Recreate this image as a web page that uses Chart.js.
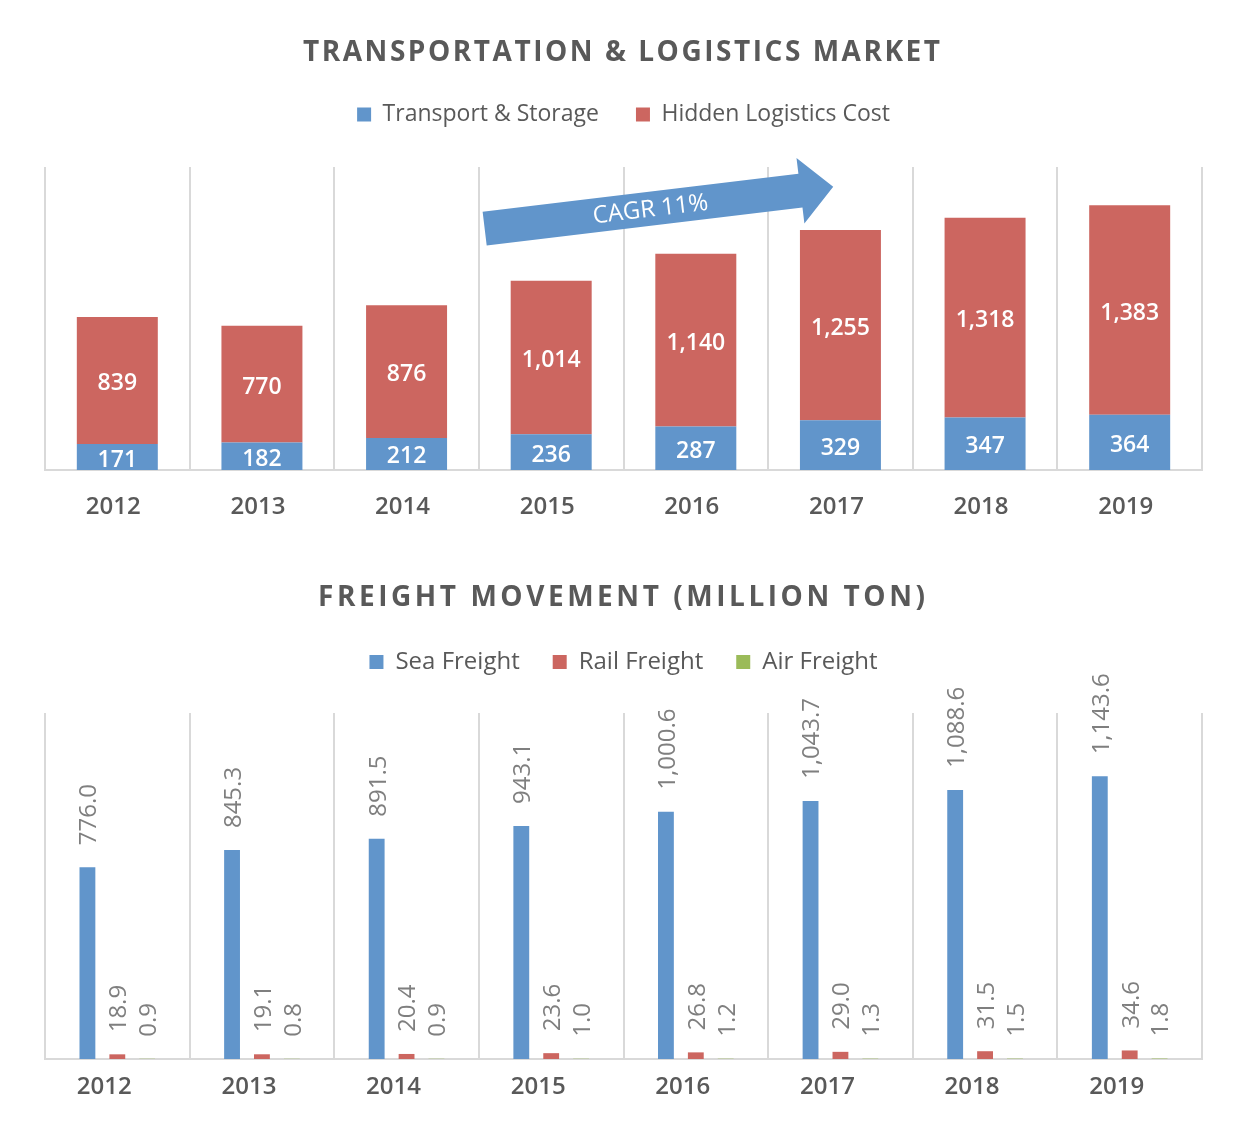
<!DOCTYPE html>
<html><head><meta charset="utf-8">
<script src="https://cdn.jsdelivr.net/npm/chart.js@4.4.0/dist/chart.umd.min.js"></script>
<style>
html,body{margin:0;padding:0;background:#fff;}
#wrap{width:1258px;height:1128px;position:relative;}
.box{position:absolute;left:0;width:1258px;}
</style></head><body>
<div id="wrap">
<div class="box" style="top:0;height:545px"><canvas id="c1"></canvas></div>
<div class="box" style="top:545px;height:583px"><canvas id="c2"></canvas></div>
</div>
<script>
// ---- data ----
const years = ['2012','2013','2014','2015','2016','2017','2018','2019'];
const transportStorage = [171, 182, 212, 236, 287, 329, 347, 364];
const hiddenLogistics = [839, 770, 876, 1014, 1140, 1255, 1318, 1383];
const seaFreight = [776.0, 845.3, 891.5, 943.1, 1000.6, 1043.7, 1088.6, 1143.6];
const railFreight = [18.9, 19.1, 20.4, 23.6, 26.8, 29.0, 31.5, 34.6];
const airFreight = [0.9, 0.8, 0.9, 1.0, 1.2, 1.3, 1.5, 1.8];
const cagrLabel = 'CAGR 11%';
const cagrFrom = {x: 2.54, y: 1593};
const cagrTo = {x: 4.95, y: 1870};

const BLUE = '#6195CB', RED = '#CC6660', GREEN = '#9BBB59', GRID = '#d9d9d9', TXT = '#595959';
Chart.defaults.font.family = "'Open Sans', sans-serif";
Chart.defaults.color = TXT;

const spacedTitle = {
  id: 'spacedTitle',
  afterDraw(chart, args, o) {
    const ctx = chart.ctx;
    ctx.save();
    ctx.font = o.font;
    ctx.fillStyle = o.color;
    ctx.textBaseline = 'middle';
    const n = [...o.text].length;
    const w0 = ctx.measureText(o.text).width;
    const sp = (o.width - w0) / (n - 1);
    if ('letterSpacing' in ctx) {
      ctx.letterSpacing = sp + 'px';
      ctx.textAlign = 'left';
      ctx.fillText(o.text, o.x - o.width / 2, o.y);
    } else {
      let x = o.x - o.width / 2;
      ctx.textAlign = 'left';
      for (const ch of o.text) { ctx.fillText(ch, x, o.y); x += ctx.measureText(ch).width + sp; }
    }
    ctx.restore();
  }
};
function legendGap(extra) {
  return { id: 'legendGap', beforeInit(chart) {
    const l = chart.legend; const fit = l.fit;
    l.fit = function() { fit.call(this); this.height += extra; };
  }};
}
const stackLabels = {
  id: 'stackLabels',
  afterDatasetsDraw(chart) {
    const ctx = chart.ctx;
    ctx.save();
    ctx.font = "600 23px 'Open Sans', sans-serif";
    ctx.fillStyle = '#ffffff';
    ctx.textAlign = 'center'; ctx.textBaseline = 'middle';
    chart.data.datasets.forEach((ds, i) => {
      chart.getDatasetMeta(i).data.forEach((bar, j) => {
        const p = bar.getProps(['x', 'y', 'base'], true);
        ctx.fillText(ds.data[j].toLocaleString('en-US'), p.x, (p.y + p.base) / 2 + 3);
      });
    });
    ctx.restore();
  }
};
const cagrArrow = {
  id: 'cagrArrow',
  afterDraw(chart) {
    const xs = chart.scales.x, ys = chart.scales.y, ctx = chart.ctx;
    const x1 = xs.getPixelForValue(cagrFrom.x), y1 = ys.getPixelForValue(cagrFrom.y);
    const x2 = xs.getPixelForValue(cagrTo.x), y2 = ys.getPixelForValue(cagrTo.y);
    const L = Math.hypot(x2 - x1, y2 - y1), a = Math.atan2(y2 - y1, x2 - x1);
    const head = 33, hw = 33, bw = 17;
    ctx.save();
    ctx.translate(x1, y1); ctx.rotate(a);
    ctx.beginPath();
    ctx.moveTo(0, -bw); ctx.lineTo(L - head, -bw); ctx.lineTo(L - head, -hw);
    ctx.lineTo(L, 0); ctx.lineTo(L - head, hw); ctx.lineTo(L - head, bw); ctx.lineTo(0, bw);
    ctx.closePath();
    ctx.fillStyle = BLUE; ctx.fill();
    ctx.font = "24px 'Open Sans', sans-serif";
    ctx.fillStyle = '#fff'; ctx.textAlign = 'center'; ctx.textBaseline = 'middle';
    ctx.fillText(cagrLabel, 167, 1);
    ctx.restore();
  }
};
const rotLabels = {
  id: 'rotLabels',
  afterDatasetsDraw(chart) {
    const ctx = chart.ctx;
    ctx.save();
    ctx.font = "24px 'Open Sans', sans-serif";
    ctx.fillStyle = '#7F7F7F';
    ctx.textAlign = 'left'; ctx.textBaseline = 'middle';
    chart.data.datasets.forEach((ds, i) => {
      chart.getDatasetMeta(i).data.forEach((bar, j) => {
        const p = bar.getProps(['x', 'y'], true);
        const t = ds.data[j].toLocaleString('en-US', {minimumFractionDigits: 1, maximumFractionDigits: 1});
        ctx.save(); ctx.translate(p.x + 2, p.y - 22); ctx.rotate(-Math.PI / 2);
        ctx.fillText(t, 0, 0); ctx.restore();
      });
    });
    ctx.restore();
  }
};

function xAxis(height, pad, offset) {
  return {
    afterFit(s) { s.height = height; },
    grid: { offset: true, color: GRID, lineWidth: 2, drawTicks: false },
    border: { display: true, color: GRID, width: 2 },
    ticks: { padding: pad, labelOffset: offset, color: TXT, font: { size: 24, weight: 600 } }
  };
}

new Chart(document.getElementById('c1'), {
  type: 'bar',
  data: { labels: years, datasets: [
    { label: 'Transport & Storage', data: transportStorage, backgroundColor: BLUE },
    { label: 'Hidden Logistics Cost', data: hiddenLogistics, backgroundColor: RED }
  ]},
  options: {
    responsive: true, maintainAspectRatio: false, animation: false,
    categoryPercentage: 0.8, barPercentage: 0.7,
    layout: { padding: { top: 66, left: 45, right: 56, bottom: 0 } },
    scales: {
      x: Object.assign({ stacked: true }, xAxis(75, 23, -4)),
      y: { stacked: true, display: false, min: 0, max: 2000 }
    },
    plugins: {
      legend: { position: 'top', labels: { boxWidth: 14, boxHeight: 14, padding: 37, color: TXT, font: { size: 23 } } },
      tooltip: { enabled: false },
      spacedTitle: { text: 'TRANSPORTATION & LOGISTICS MARKET', font: "bold 28px 'Open Sans', sans-serif", color: TXT, x: 621.5, y: 53, width: 637 }
    }
  },
  plugins: [spacedTitle, legendGap(31), stackLabels, cagrArrow]
});

new Chart(document.getElementById('c2'), {
  type: 'bar',
  data: { labels: years, datasets: [
    { label: 'Sea Freight', data: seaFreight, backgroundColor: BLUE },
    { label: 'Rail Freight', data: railFreight, backgroundColor: RED },
    { label: 'Air Freight', data: airFreight, backgroundColor: GREEN }
  ]},
  options: {
    responsive: true, maintainAspectRatio: false, animation: false,
    categoryPercentage: 0.62, barPercentage: 0.53,
    layout: { padding: { top: 72, left: 45, right: 56, bottom: 0 } },
    scales: {
      x: xAxis(69, 14, -13),
      y: { display: false, min: 0, max: 1400 }
    },
    plugins: {
      legend: { position: 'top', labels: { boxWidth: 14, boxHeight: 14, padding: 33, color: TXT, font: { size: 24 } } },
      tooltip: { enabled: false },
      spacedTitle: { text: 'FREIGHT MOVEMENT (MILLION TON)', font: "bold 28px 'Open Sans', sans-serif", color: TXT, x: 621.5, y: 53, width: 607 }
    }
  },
  plugins: [spacedTitle, legendGap(29), rotLabels]
});
</script>
</body></html>
